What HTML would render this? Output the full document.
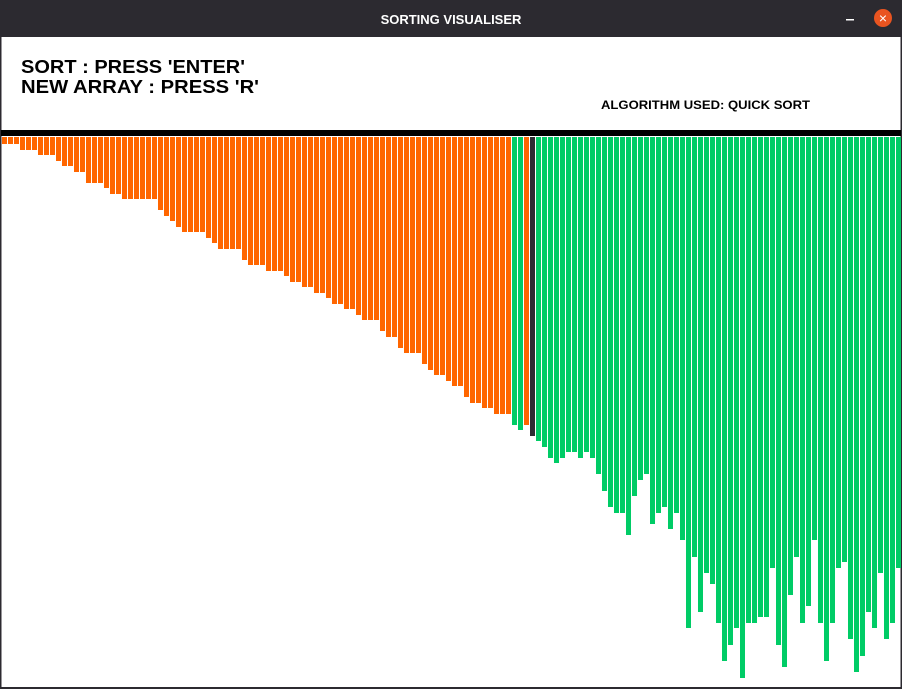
<!DOCTYPE html>
<html><head><meta charset="utf-8"><style>
html,body{margin:0;padding:0;background:#fff;}
body{width:902px;height:689px;overflow:hidden;font-family:"Liberation Sans",sans-serif;}
</style></head><body>
<svg id="chart" width="902" height="689" xmlns="http://www.w3.org/2000/svg" style="display:block">
  <rect x="0" y="0" width="902" height="37" fill="#2c2a30"/>
  <text x="451" y="24" fill="#ffffff" font-family="Liberation Sans, sans-serif" font-weight="bold" font-size="13" text-anchor="middle">SORTING VISUALISER</text>
  <rect x="846" y="19" width="8" height="1.5" fill="#ffffff"/>
  <circle cx="883" cy="18" r="9" fill="#e95420"/>
  <text x="883" y="23" fill="#ffffff" font-family="Liberation Sans, sans-serif" font-size="14" text-anchor="middle">×</text>
  <rect x="0" y="37" width="1.5" height="652" fill="#2c2a30"/>
  <rect x="900.5" y="37" width="1.5" height="652" fill="#2c2a30"/>
  <rect x="0" y="687" width="902" height="2" fill="#2c2a30"/>
  <text x="21" y="73" font-family="Liberation Sans, sans-serif" font-weight="bold" font-size="18" textLength="224" lengthAdjust="spacingAndGlyphs">SORT : PRESS 'ENTER'</text>
  <text x="21" y="93" font-family="Liberation Sans, sans-serif" font-weight="bold" font-size="18" textLength="238" lengthAdjust="spacingAndGlyphs">NEW ARRAY : PRESS 'R'</text>
  <text x="601" y="109" font-family="Liberation Sans, sans-serif" font-weight="bold" font-size="11.5" textLength="209" lengthAdjust="spacingAndGlyphs">ALGORITHM USED: QUICK SORT</text>
  <rect x="1" y="130" width="900" height="6" fill="#000000"/>
  <g id="bars"></g>
</svg>
<script>
const values = [7,7,7,13,13,13,18,18,18,24,29,29,35,35,46,46,46,51,57,57,62,62,62,62,62,62,73,79,84,90,95,95,
95,95,101,106,112,112,112,112,123,128,128,128,134,134,134,139,145,145,150,150,156,156,161,167,167,172,172,178,183,183,183,194,200,200,211,216,216,216,227,233,238,238,244,249,249,260,266,266,271,271,277,277,277,
288,293,288,299,304,310,321,326,321,315,315,321,315,321,337,354,370,376,376,398,359,343,337,387,376,370,392,376,403,491,420,475,436,447,486,524,508,491,541,
486,486,480,480,431,508,530,458,420,486,469,403,486,524,486,431,425,502,535,519,475,491,436,502,486,431];
const states = [];
for (let i = 0; i < values.length; i++) states.push(i < 85 ? 'left' : 'right');
states[87] = 'left'; states[88] = 'pivot';
const stateColors = {left:'#ff6600', right:'#00cc66', pivot:'#2e2c33'};
const barX0 = 2, barPitch = 6, barW = 5, barTop = 137;
function xScale(i){ return barX0 + i * barPitch; }
function hScale(v){ return v; }
const barsG = document.getElementById('bars');
const SVGNS = 'http://www.w3.org/2000/svg';
values.forEach((v, i) => {
  const r = document.createElementNS(SVGNS, 'rect');
  r.setAttribute('x', xScale(i));
  r.setAttribute('y', barTop);
  r.setAttribute('width', barW);
  r.setAttribute('height', hScale(v));
  r.setAttribute('fill', stateColors[states[i]]);
  
  
  barsG.appendChild(r);
});
</script>
</body></html>
